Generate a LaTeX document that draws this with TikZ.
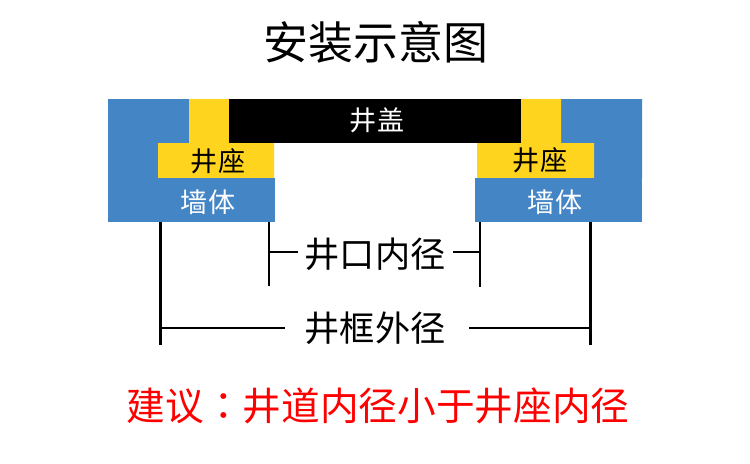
\documentclass[tikz,border=0pt]{standalone}
\usepackage{fontspec}
\setmainfont{Noto Sans CJK SC}
\newfontfamily\tcfont{Noto Sans CJK TC}
\definecolor{wallblue}{HTML}{4485C6}
\definecolor{seatyellow}{HTML}{FFD41F}
\definecolor{redtext}{HTML}{FF0000}
\newcommand{\pxsize}[1]{\fontsize{#1}{#1}\selectfont}
\tikzset{
  x=0.75pt,y=-0.75pt,
  lbl/.style={inner sep=0pt,anchor=center},
  title/.style={lbl,font=\pxsize{33.7}},
  blocktext/.style={lbl,font=\pxsize{20.3}},
  dimtext/.style={lbl,font=\pxsize{26.4}},
  notetext/.style={lbl,font=\pxsize{29},text=redtext},
  dimthick/.style={draw=black,line width=2.2pt},
  dimmid/.style={draw=black,line width=1.7pt},
  dimthin/.style={draw=black,line width=1.4pt},
}
\begin{document}
\begin{tikzpicture}
\useasboundingbox (0,0) rectangle (750,464);
\fill[white] (0,0) rectangle (750,464);
% left
\fill[wallblue] (108,99) -- (189,99) -- (189,143) -- (158,143) -- (158,178) -- (108,178) -- cycle;
\fill[seatyellow] (189,99) -- (229,99) -- (229,143) -- (274,143) -- (274,178) -- (158,178) -- (158,143) -- (189,143) -- cycle;
\fill[wallblue] (108,178) rectangle (275,222);
% right
\fill[wallblue] (642,99) -- (561,99) -- (561,143) -- (594,143) -- (594,178) -- (642,178) -- cycle;
\fill[seatyellow] (561,99) -- (521,99) -- (521,143) -- (477,143) -- (477,178) -- (594,178) -- (594,143) -- (561,143) -- cycle;
\fill[wallblue] (475,178) rectangle (642,222);
% cover
\fill[black] (229,99) rectangle (521,143);

\node[title] (t) at (376,42) {安装示意图};
\node[blocktext,text=white] (cover) at (377,120) {井盖};
\node[blocktext] (seatL) at (218,161) {井座};
\node[blocktext] (seatR) at (540,160) {井座};
\node[blocktext,text=white] (wallL) at (208,202) {墙体};
\node[blocktext,text=white] (wallR) at (555,202) {墙体};
\node[dimtext] (inner) at (375,254) {井口内径};
\node[dimtext] (outer) at (375,328) {井框外径};
\node[notetext] (note) at (378,406) {建议{\tcfont ：}井道内径小于井座内径};

\coordinate (oLt) at (160.7,222); \coordinate (oLb) at (160.7,344.5);
\coordinate (oRt) at (590.7,222); \coordinate (oRb) at (590.7,344.5);
\coordinate (iLt) at (269.3,222); \coordinate (iLb) at (269.3,285.7);
\coordinate (iRt) at (480.3,222); \coordinate (iRb) at (480.3,286.5);
\coordinate (oLm) at (160.7,327.7); \coordinate (oRm) at (590.7,327.7);
\coordinate (iLm) at (269.3,251.7); \coordinate (iRm) at (480.3,251.7);
\coordinate (oLe) at (285,327.7); \coordinate (oRe) at (468.5,327.7);
\coordinate (iLe) at (297.7,251.7); \coordinate (iRe) at (453.3,251.7);

\draw[dimthick] (oLt) -- (oLb);
\draw[dimthick] (oRt) -- (oRb);
\draw[dimthin] (iLt) -- (iLb);
\draw[dimthin] (iRt) -- (iRb);
\draw[dimmid] (oLm) -- (oLe);
\draw[dimmid] (oRm) -- (oRe);
\draw[dimthin] (iLm) -- (iLe);
\draw[dimthin] (iRm) -- (iRe);
\end{tikzpicture}
\end{document}
